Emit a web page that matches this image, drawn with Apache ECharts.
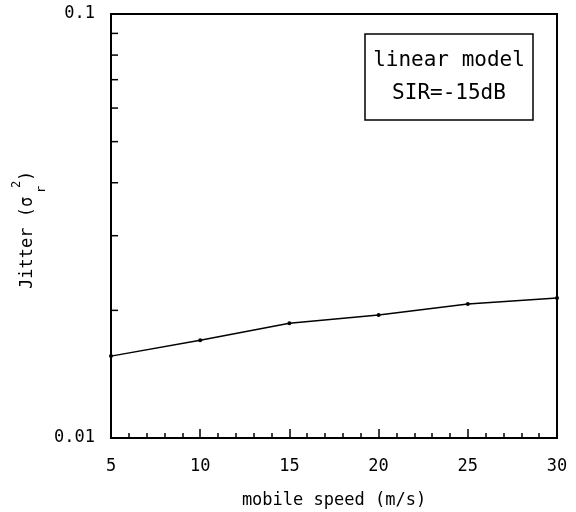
<!DOCTYPE html>
<html>
<head>
<meta charset="utf-8">
<script src="https://cdn.jsdelivr.net/npm/echarts@6/dist/echarts.min.js"></script>
<style>html,body{margin:0;padding:0;background:#fff;}#c{width:576px;height:512px;}</style>
</head>
<body>
<div id="c"></div>
<script>
var speeds = [5, 10, 15, 20, 25, 30];
var jitter = [0.0156, 0.0170, 0.01865, 0.0195, 0.0207, 0.0214];
var yMinorTicks = [0.02, 0.03, 0.04, 0.05, 0.06, 0.07, 0.08, 0.09];
var legendLines = ['linear model', 'SIR=-15dB'];
var FONT = '"DejaVu Sans Mono", monospace';

var chart = echarts.init(document.getElementById('c'), null, {renderer: 'canvas'});
var option = {
  backgroundColor: '#fff',
  animation: false,
  grid: {left: 111, top: 14, right: 19, bottom: 74, outerBoundsMode: 'none', containLabel: false, show: true, borderColor: '#000', borderWidth: 2, backgroundColor: 'transparent'},
  xAxis: {
    type: 'value', min: 5, max: 30, interval: 5,
    name: 'mobile speed (m/s)', nameLocation: 'middle', nameGap: 54,
    nameTextStyle: {fontFamily: FONT, fontSize: 17, color: '#000'},
    axisLine: {show: true, lineStyle: {color: '#000', width: 2}},
    axisTick: {show: true, inside: true, length: 9, lineStyle: {color: '#000', width: 1.5}},
    minorTick: {show: true, splitNumber: 5, length: 5, lineStyle: {color: '#000', width: 1.5}},
    splitLine: {show: false},
    axisLabel: {fontFamily: FONT, fontSize: 17, color: '#000', margin: 20}
  },
  yAxis: {
    type: 'log', min: 0.01, max: 0.1, logBase: 10,
    axisLine: {show: true, lineStyle: {color: '#000', width: 2}},
    axisTick: {show: false},
    minorTick: {show: false},
    splitLine: {show: false},
    axisLabel: {fontFamily: FONT, fontSize: 17, color: '#000', margin: 16,
      formatter: function (v) { return Math.abs(v - 0.1) < 1e-9 ? '0.1' : (Math.abs(v - 0.01) < 1e-9 ? '0.01' : ''); }}
  },
  series: [
    {
      type: 'line', data: speeds.map(function (s, i) { return [s, jitter[i]]; }),
      symbol: 'circle', symbolSize: 4, showSymbol: true,
      lineStyle: {color: '#000', width: 1.5}, itemStyle: {color: '#000'}, z: 5, clip: false
    },
    {
      type: 'custom', data: yMinorTicks.map(function (v) { return [5, v]; }),
      renderItem: function (params, api) {
        var p = api.coord([api.value(0), api.value(1)]);
        return {type: 'line', shape: {x1: p[0], y1: p[1], x2: p[0] + 7, y2: p[1]}, style: {stroke: '#000', lineWidth: 1.5}};
      },
      silent: true, z: 4
    }
  ],
  graphic: [
    {type: 'rect', shape: {x: 365, y: 34, width: 168, height: 86}, style: {fill: '#fff', stroke: '#000', lineWidth: 1.5}, z: 10},
    {type: 'text', x: 449, y: 61, style: {text: legendLines[0], font: '21px ' + FONT, fill: '#000', align: 'center', verticalAlign: 'middle'}, z: 11},
    {type: 'text', x: 449, y: 94, style: {text: legendLines[1], font: '21px ' + FONT, fill: '#000', align: 'center', verticalAlign: 'middle'}, z: 11},
    {type: 'group', x: 28, y: 289, rotation: Math.PI / 2, z: 11, children: [
      {type: 'text', x: 0, y: 0, style: {text: 'Jitter (σ', font: '17px ' + FONT, fill: '#000', align: 'left', verticalAlign: 'middle'}},
      {type: 'text', x: 96, y: 14, style: {text: 'r', font: '12px ' + FONT, fill: '#000', align: 'left', verticalAlign: 'middle'}},
      {type: 'text', x: 101, y: -11, style: {text: '2', font: '12px ' + FONT, fill: '#000', align: 'left', verticalAlign: 'middle'}},
      {type: 'text', x: 108, y: 0, style: {text: ')', font: '17px ' + FONT, fill: '#000', align: 'left', verticalAlign: 'middle'}}
    ]}
  ]
};
chart.setOption(option);
</script>
</body>
</html>
